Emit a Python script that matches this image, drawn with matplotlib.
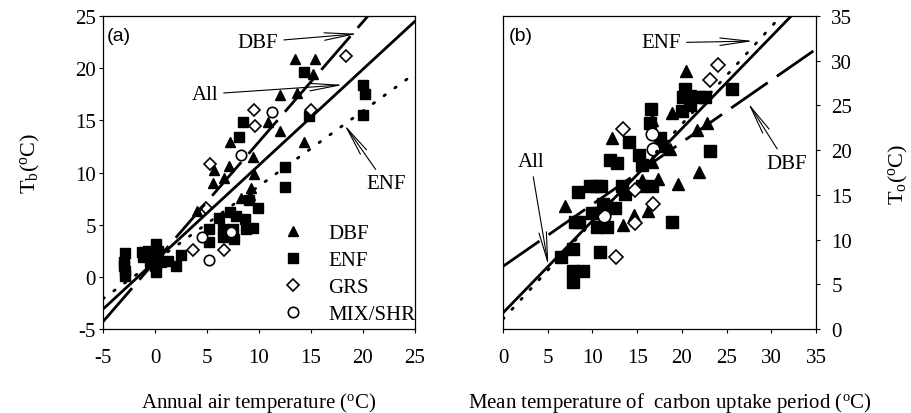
import matplotlib
matplotlib.use('Agg')
import numpy as np
import matplotlib.pyplot as plt

plt.rcParams['font.family'] = ['Liberation Serif', 'DejaVu Serif']
plt.rcParams['mathtext.fontset'] = 'custom'
plt.rcParams['mathtext.rm'] = 'Liberation Serif'
plt.rcParams['mathtext.it'] = 'Liberation Serif:italic'
plt.rcParams['axes.unicode_minus'] = False

# ---- panel (a): annual air temperature vs Tb ----
a_dbf_x = [13.5, 15.4, 15.2, 12.0, 13.7, 10.9, 12.0, 14.3, 7.2, 7.1, 5.7, 5.6, 6.6, 9.4, 9.5, 9.2, 8.3, 9.1, 4.0]
a_dbf_y = [20.9, 20.9, 19.4, 17.4, 17.6, 14.8, 14.0, 12.9, 12.9, 10.6, 10.2, 9.0, 9.5, 11.5, 9.9, 8.5, 7.6, 7.8, 6.3]

a_enf_x = [14.3, 20.0, 20.2, 20.0, 14.8, 8.5, 8.1, 12.5, 12.5, 9.9,
           7.2, 7.8, 6.2, 8.7, 6.5, 7.5, 8.8, 9.4, 5.2, 5.2, 6.5, 7.6, 9.0,
           -2.9, -3.0, -3.0, -2.9, -2.9, -1.2, -0.67, 0.13, 0.29, -0.2, -0.03, 0.13,
           0.6, 1.25, 2.05, 2.47, -0.5, -1.15, 0.0]
a_enf_y = [19.6, 18.4, 17.5, 15.5, 15.4, 14.8, 13.4, 10.5, 8.6, 6.6,
           6.2, 5.8, 5.6, 5.5, 4.6, 4.6, 4.6, 4.7, 4.6, 3.3, 3.8, 3.6, 7.4,
           2.3, 1.4, 1.0, 0.6, 0.1, 2.35, 2.5, 3.15, 2.5, 1.7, 1.07, 0.5,
           1.4, 1.55, 1.07, 2.1, 1.55, 1.9, 2.2]

a_grs_x = [18.4, 9.5, 9.6, 15.0, 5.3, 4.9, 3.7, 6.6]
a_grs_y = [21.2, 16.0, 14.5, 16.0, 10.8, 6.6, 2.6, 2.6]

a_mix_x = [11.3, 8.3, 5.2, 4.5, 7.3]
a_mix_y = [15.8, 11.7, 1.6, 3.8, 4.3]

# regression lines: (slope, intercept)
a_fit_all = (0.92, 1.5)
a_fit_dbf = (1.15, 1.45)
a_fit_enf = (0.72, 1.5)

# ---- panel (b): mean temperature of carbon uptake period vs To ----
b_dbf_x = [20.5, 18.9, 16.7, 12.2, 18.7, 21.7, 22.8, 16.7, 17.3, 15.6, 19.6, 21.9, 6.9, 13.45, 14.6, 16.25]
b_dbf_y = [28.9, 24.2, 23.4, 21.4, 20.1, 22.2, 23.0, 18.7, 16.8, 16.7, 16.2, 17.6, 13.7, 11.6, 12.7, 13.2]

b_enf_x = [20.35, 20.1, 20.9, 22.0, 22.6, 25.6, 20.0, 20.9, 16.55, 16.4, 17.55, 17.75, 14.1,
           12.0, 12.8, 15.2, 15.6, 15.5, 16.7, 13.3, 13.7, 9.7, 10.4, 11.0, 8.4, 12.5,
           11.2, 9.9, 10.7, 8.0, 8.5, 10.5, 11.6, 18.9, 7.8, 6.5, 10.85, 7.8, 8.9, 7.8, 23.2]
b_enf_y = [26.8, 25.9, 26.1, 25.9, 25.9, 26.8, 24.4, 25.0, 24.6, 23.0, 21.4, 20.5, 20.9,
           18.9, 18.6, 19.5, 18.3, 16.0, 16.0, 16.0, 15.1, 16.0, 16.0, 16.0, 15.3, 13.5,
           14.0, 13.0, 13.0, 12.0, 12.0, 11.4, 11.4, 12.0, 9.0, 8.1, 8.6, 6.5, 6.5, 5.2, 19.9]

b_grs_x = [24.1, 23.1, 13.45, 14.8, 16.8, 14.76, 12.6]
b_grs_y = [29.5, 27.9, 22.4, 15.5, 14.0, 11.9, 8.1]

b_mix_x = [16.7, 16.8, 11.3]
b_mix_y = [21.8, 20.1, 12.6]

b_fit_all = (1.03, 1.8)
b_fit_dbf = (0.694, 7.0)
b_fit_enf = (1.09, 1.1)


def draw_points(ax, dbf, enf, grs, mix, ms):
    # filled triangles / squares, open diamonds / circles
    ax.plot(dbf[0], dbf[1], '^', color='black', ms=ms, ls='none', label='DBF', zorder=2)
    ax.plot(enf[0], enf[1], 's', color='black', ms=ms, ls='none', label='ENF', zorder=2)
    ax.plot(grs[0], grs[1], 'D', mfc='white', mec='black', mew=1.2, ms=ms - 1.5, ls='none', label='GRS', zorder=2)
    ax.plot(mix[0], mix[1], 'o', mfc='white', mec='black', mew=1.2, ms=ms, ls='none', label='MIX/SHR', zorder=2)


def draw_fits(ax, xlim, fit_all, fit_dbf, fit_enf):
    xs = np.array(xlim, dtype=float)
    ax.plot(xs, fit_all[0] * xs + fit_all[1], '-', color='black', lw=2, zorder=3)
    ax.plot(xs, fit_dbf[0] * xs + fit_dbf[1], color='black', lw=2, dashes=(16, 4), zorder=3)
    ax.plot(xs, fit_enf[0] * xs + fit_enf[1], color='black', lw=2, dashes=(0.6, 4.2),
            dash_capstyle='round', zorder=3)


arrow = dict(arrowstyle='->, head_length=1.4, head_width=0.18', lw=0.8, color='black',
             shrinkA=2, shrinkB=0)

fig = plt.figure(figsize=(9.12, 4.14), dpi=100)
ax1 = fig.add_axes([0.1129, 0.2029, 0.3421, 0.756])
ax2 = fig.add_axes([0.5515, 0.2029, 0.3432, 0.756])

# panel (a)
draw_points(ax1, (a_dbf_x, a_dbf_y), (a_enf_x, a_enf_y), (a_grs_x, a_grs_y), (a_mix_x, a_mix_y), 7.5)
draw_fits(ax1, (-5, 25), a_fit_all, a_fit_dbf, a_fit_enf)
ax1.set_xlim(-5, 25)
ax1.set_ylim(-5, 25)
ax1.set_xticks(range(-5, 30, 5))
ax1.set_yticks(range(-5, 30, 5))
ax1.tick_params(axis='x', direction='out', length=3, pad=11, labelsize=15)
ax1.tick_params(axis='y', direction='out', length=3, pad=2, labelsize=15)
ax1.text(0.012, 0.965, '(a)', transform=ax1.transAxes, ha='left', va='top',
         fontsize=14, family=['Liberation Sans', 'DejaVu Sans'])
ax1.annotate('DBF', xy=(19.5, 23.3), xytext=(9.9, 22.5), ha='center', va='center',
             fontsize=15, arrowprops=arrow)
ax1.annotate('All', xy=(18.1, 18.4), xytext=(4.8, 17.5), ha='center', va='center',
             fontsize=15, arrowprops=arrow)
ax1.annotate('ENF', xy=(18.2, 14.6), xytext=(22.2, 8.9), ha='center', va='center',
             fontsize=15, arrowprops=arrow)
leg = ax1.legend(loc='upper left', bbox_to_anchor=(0.575, 0.338), frameon=False, fontsize=15,
                 handlelength=1.0, handletextpad=1.2, labelspacing=0.36, borderpad=0,
                 borderaxespad=0, numpoints=1)

# panel (b)
draw_points(ax2, (b_dbf_x, b_dbf_y), (b_enf_x, b_enf_y), (b_grs_x, b_grs_y), (b_mix_x, b_mix_y), 9)
draw_fits(ax2, (0, 35), b_fit_all, b_fit_dbf, b_fit_enf)
ax2.set_xlim(0, 35)
ax2.set_ylim(0, 35)
ax2.set_xticks(range(0, 40, 5))
ax2.set_yticks(range(0, 40, 5))
ax2.yaxis.tick_right()
ax2.tick_params(axis='x', direction='out', length=3, pad=11, labelsize=15)
ax2.tick_params(axis='y', direction='out', length=3, pad=8, labelsize=15)
ax2.text(0.02, 0.965, '(b)', transform=ax2.transAxes, ha='left', va='top',
         fontsize=14, family=['Liberation Sans', 'DejaVu Sans'])
ax2.annotate('ENF', xy=(28.0, 32.2), xytext=(17.7, 32.0), ha='center', va='center',
             fontsize=15, arrowprops=arrow)
ax2.annotate('DBF', xy=(27.4, 25.3), xytext=(31.7, 18.5), ha='center', va='center',
             fontsize=15, arrowprops=arrow)
ax2.annotate('All', xy=(5.07, 7.1), xytext=(3.1, 18.7), ha='center', va='center',
             fontsize=15, arrowprops=arrow)

for ax in (ax1, ax2):
    for sp in ax.spines.values():
        sp.set_linewidth(0.9)

# axis titles
fig.text(0.033, 0.606, r'T$_\mathrm{b}$($^\mathrm{o}$C)', rotation=90, ha='center', va='center', fontsize=16)
fig.text(0.985, 0.58, r'T$_\mathrm{o}$($^\mathrm{o}$C)', rotation=90, ha='center', va='center', fontsize=16)
fig.text(0.284, 0.027, r'Annual air temperature ($^\mathrm{o}$C)', ha='center', va='center', fontsize=15)
fig.text(0.735, 0.027, r'Mean temperature of  carbon uptake period ($^\mathrm{o}$C)',
         ha='center', va='center', fontsize=15)

fig.savefig('out.png', dpi=100)
